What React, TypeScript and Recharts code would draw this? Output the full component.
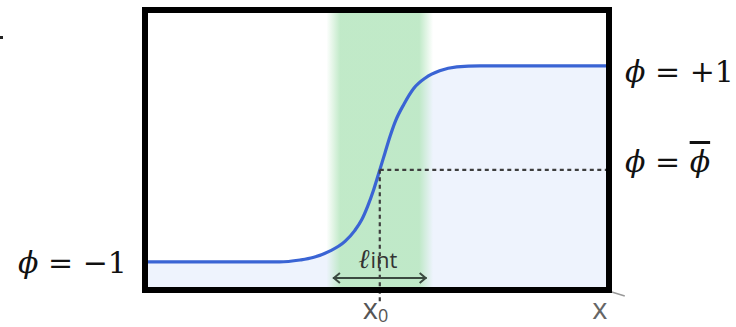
import React from 'react';
import { ComposedChart, Area, Line, XAxis, YAxis, ReferenceArea, ReferenceLine } from 'recharts';

// position along x (units of the plot), order parameter phi
const xs = [-5.06, -2.59, -2.16, -1.72, -1.44, -1.08, -0.75, -0.54, -0.39, -0.26, -0.13, 0, 0.11, 0.22, 0.34, 0.52, 0.73, 0.99, 1.29, 1.66, 2.16, 4.94];
const phi = [-1, -1, -1, -0.98, -0.955, -0.89, -0.79, -0.68, -0.57, -0.43, -0.26, -0.06, 0.11, 0.28, 0.44, 0.61, 0.77, 0.88, 0.95, 0.99, 1, 1];

const X_DOMAIN: [number, number] = [-5.06, 4.94];
const Y_DOMAIN: [number, number] = [-1.286, 1.571];
const X0 = 0;
const PHI_BAR = -0.06;
const BAND: [number, number] = [-1.01, 1.01]; // interface width l_int
const ARROW_Y = -1.163;
const xTicks = [0, 4.74];
const xTickLabels = ['x0', 'x'];

const data = xs.map((x, i) => ({ x, phi: phi[i] }));

const XTick = (props: any) => {
  const { x, payload } = props;
  const i = xTicks.indexOf(payload.value);
  const label = xTickLabels[i];
  if (label === 'x0') {
    return (
      <text x={x - 17} y={319} fontFamily="Open Sans" fontSize={29} fill="#555">
        <tspan>x</tspan>
        <tspan fontSize={18} dy={3}>0</tspan>
      </text>
    );
  }
  return (
    <text x={x} y={319} textAnchor="middle" fontFamily="Open Sans" fontSize={29} fill="#666">
      {label}
    </text>
  );
};

const ArrowShape = (props: any) => {
  const { x1, y1, x2, y2 } = props;
  const c = '#3b4a40';
  const cx = (x1 + x2) / 2;
  return (
    <g>
      <line x1={x1} y1={y1} x2={x2} y2={y2} stroke={c} strokeWidth={2} />
      <polyline points={`${x1 + 7},${y1 - 5} ${x1 + 1},${y1} ${x1 + 7},${y1 + 5}`} fill="none" stroke={c} strokeWidth={2} />
      <polyline points={`${x2 - 7},${y2 - 5} ${x2 - 1},${y2} ${x2 - 7},${y2 + 5}`} fill="none" stroke={c} strokeWidth={2} />
      <text x={cx - 2} y={y1 - 10} textAnchor="middle" fill="#333">
        <tspan fontFamily="DejaVu Serif" fontStyle="italic" fontSize={27}>ℓ</tspan>
        <tspan fontFamily="Open Sans" fontSize={22} dx={1}>int</tspan>
      </text>
    </g>
  );
};

export default function App() {
  const serif = 'DejaVu Serif';
  return (
    <div style={{ position: 'absolute', left: 0, top: 0, width: 736, height: 327, background: '#fff' }}>
      <ComposedChart width={736} height={327} data={data} margin={{ top: 10, right: 127, bottom: 0, left: 145 }}>
        <defs>
          <linearGradient id="bandGrad" x1="0" y1="0" x2="1" y2="0">
            <stop offset="0" stopColor="#bce8c4" stopOpacity={0} />
            <stop offset="0.13" stopColor="#bce8c4" stopOpacity={0.93} />
            <stop offset="0.87" stopColor="#bce8c4" stopOpacity={0.93} />
            <stop offset="1" stopColor="#bce8c4" stopOpacity={0} />
          </linearGradient>
        </defs>
        <XAxis
          type="number"
          dataKey="x"
          domain={X_DOMAIN}
          ticks={xTicks}
          tick={<XTick />}
          axisLine={false}
          tickLine={false}
          height={37}
          allowDataOverflow
          interval={0}
        />
        <YAxis type="number" domain={Y_DOMAIN} hide allowDataOverflow />
        <Area
          type="monotone"
          dataKey="phi"
          stroke="none"
          fill="#eef3fd"
          fillOpacity={1}
          baseValue="dataMin"
          isAnimationActive={false}
          zIndex={100}
        />
        <ReferenceArea
          x1={BAND[0] - 0.14}
          x2={BAND[1] + 0.14}
          y1={Y_DOMAIN[0]}
          y2={Y_DOMAIN[1]}
          fill="url(#bandGrad)"
          fillOpacity={1}
          stroke="none"
          ifOverflow="visible"
          zIndex={150}
        />
        <Line
          type="monotone"
          dataKey="phi"
          stroke="#3a64d4"
          strokeWidth={3.2}
          dot={false}
          activeDot={false}
          isAnimationActive={false}
          zIndex={400}
        />
        <ReferenceLine
          segment={[{ x: X0, y: PHI_BAR }, { x: X_DOMAIN[1], y: PHI_BAR }]}
          stroke="#3d3d3d"
          strokeWidth={2.2}
          strokeDasharray="4 3.5"
          ifOverflow="visible"
          zIndex={450}
        />
        <ReferenceLine
          segment={[{ x: X0, y: PHI_BAR }, { x: X0, y: -1.4 }]}
          stroke="#3d3d3d"
          strokeWidth={2.2}
          strokeDasharray="4 3.5"
          ifOverflow="visible"
          zIndex={450}
        />
        <ReferenceLine
          segment={[{ x: BAND[0], y: ARROW_Y }, { x: BAND[1], y: ARROW_Y }]}
          shape={<ArrowShape />}
          ifOverflow="visible"
          zIndex={460}
        />
        <ReferenceLine
          segment={[{ x: 5.0, y: -1.306 }, { x: 5.28, y: -1.347 }]}
          stroke="#999"
          strokeWidth={1.5}
          ifOverflow="visible"
          zIndex={460}
        />
        <ReferenceArea
          x1={X_DOMAIN[0]}
          x2={X_DOMAIN[1]}
          y1={Y_DOMAIN[0]}
          y2={Y_DOMAIN[1]}
          fill="none"
          stroke="#000"
          strokeWidth={6}
          ifOverflow="visible"
          zIndex={500}
        />
        <rect x={0} y={36} width={3} height={3} fill="#222" />
        <text x={625} y={82} fontFamily={serif} fontSize={30} fill="#111">
          <tspan fontStyle="italic">ϕ</tspan> = +1
        </text>
        <text x={625} y={172} fontFamily={serif} fontSize={30} fill="#111">
          <tspan fontStyle="italic">ϕ</tspan> = <tspan fontStyle="italic" style={{ textDecoration: 'overline' }}>ϕ</tspan>
        </text>
        <text x={18} y={273} fontFamily={serif} fontSize={30} fill="#111">
          <tspan fontStyle="italic">ϕ</tspan> = −1
        </text>
      </ComposedChart>
    </div>
  );
}
